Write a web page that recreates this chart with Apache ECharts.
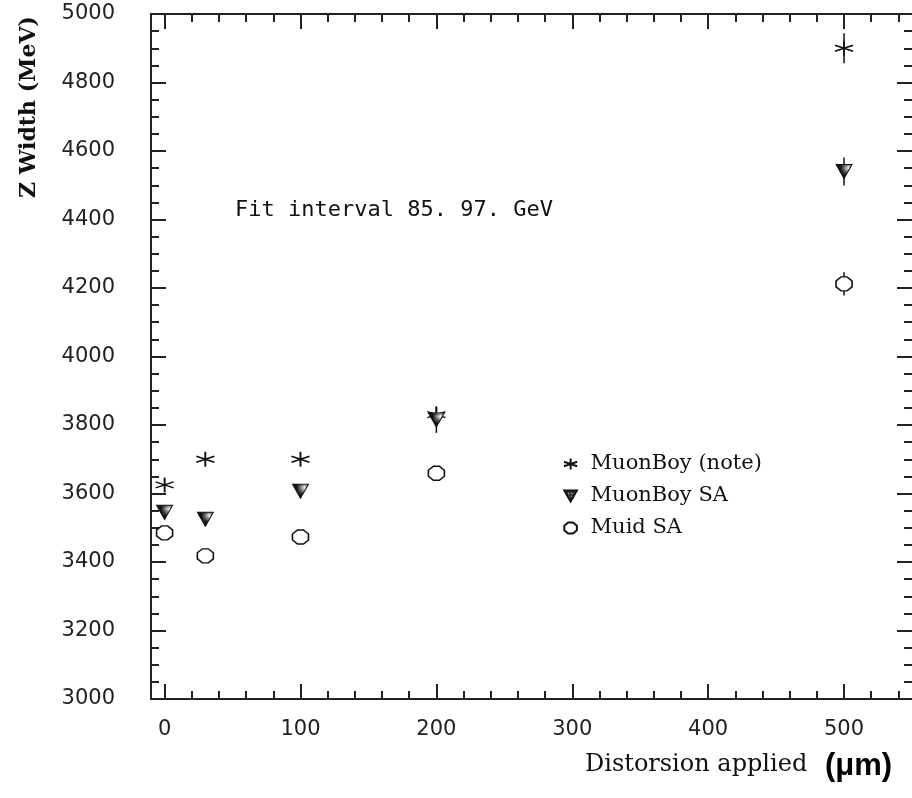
<!DOCTYPE html>
<html>
<head>
<meta charset="utf-8">
<script src="https://cdn.jsdelivr.net/npm/echarts@6/dist/echarts.min.js"></script>
<style>
html,body{margin:0;padding:0;background:#fff;}
#chart{width:912px;height:798px;}
</style>
</head>
<body>
<div id="chart"></div>
<script>
// ---- data ----
var distortion = [0, 30, 100, 200, 500];
var muonBoyNote = [3625, 3700, 3700, 3830, 4900];
var muonBoyNoteErr = [20, 20, 20, 25, 44];
var muonBoySA = [3545, 3525, 3607, 3815, 4540];
var muonBoySAErr = [20, 20, 20, 38, 41];
var muidSA = [3485, 3418, 3473, 3659, 4212];
var muidSAErr = [15, 15, 15, 18, 34];
var seriesNames = ['MuonBoy (note)', 'MuonBoy SA', 'Muid SA'];
var xMajorTicks = [0, 100, 200, 300, 400, 500];
var xMinorTicks = [20, 40, 60, 80, 120, 140, 160, 180, 220, 240, 260, 280, 320, 340, 360, 380, 420, 440, 460, 480, 520, 540];
var annotationText = 'Fit interval 85. 97. GeV';

// ---- helpers ----
function pts(ys) { return distortion.map(function (x, i) { return [x, ys[i]]; }); }
function errPts(ys, es) { return distortion.map(function (x, i) { return [x, ys[i], es[i]]; }); }

var hatch = document.createElement('canvas');
hatch.width = 3; hatch.height = 3;
(function () {
  var c = hatch.getContext('2d');
  c.fillStyle = '#111'; c.fillRect(0, 0, 3, 3);
  c.fillStyle = '#fff'; c.fillRect(1, 0, 1, 1); c.fillRect(0, 2, 1, 1);
})();

var AXC = '#222';
var starPath = 'path://M9 0 L9 15 M0 4.5 L18 10.5 M0 10.5 L18 4.5';
var triPath = 'path://M0 0 L16 0 L8 14 Z';
var octPath = 'path://M5 0 L11 0 L16 4 L16 10 L11 14 L5 14 L0 10 L0 4 Z';

function errorSeries(name, ys, es) {
  return {
    name: name, type: 'custom', z: 1,
    data: errPts(ys, es),
    renderItem: function (params, api) {
      var x = api.value(0), y = api.value(1), e = api.value(2);
      var p1 = api.coord([x, y - e]), p2 = api.coord([x, y + e]);
      return { type: 'line', shape: { x1: p1[0], y1: p1[1], x2: p2[0], y2: p2[1] },
        style: { stroke: '#111', lineWidth: 1.5 } };
    }
  };
}

function plain(v) { return String(v); }

function xAxisDef(pos, ticks, len, showLine, showLabel) {
  return {
    type: 'value', position: pos, min: -10, max: 550,
    axisLine: { show: showLine, onZero: false, lineStyle: { color: AXC, width: 2 } },
    axisTick: { show: true, inside: true, length: len, customValues: ticks, lineStyle: { color: AXC, width: 2 } },
    axisLabel: { show: showLabel, customValues: ticks, margin: 20, color: AXC, formatter: plain,
      fontFamily: 'DejaVu Sans', fontSize: 21 },
    splitLine: { show: false }
  };
}
function yAxisDef(pos, showLabel, showLine) {
  return {
    type: 'value', position: pos, min: 3000, max: 5000, interval: 200,
    axisLine: { show: showLine, onZero: false, lineStyle: { color: AXC, width: 2 } },
    axisTick: { show: true, inside: true, length: 15, lineStyle: { color: AXC, width: 2 } },
    minorTick: { show: true, splitNumber: 4, length: 8, lineStyle: { color: AXC, width: 2 } },
    axisLabel: { show: showLabel, margin: 36, color: AXC, formatter: plain,
      fontFamily: 'DejaVu Sans', fontSize: 21 },
    splitLine: { show: false }
  };
}

var chart = echarts.init(document.getElementById('chart'), null, { renderer: 'canvas' });
chart.setOption({
  animation: false,
  backgroundColor: '#fff',
  grid: { left: 151, top: 14, width: 764, height: 685, containLabel: false },
  xAxis: [
    xAxisDef('bottom', xMajorTicks, 15, true, true),
    xAxisDef('bottom', xMinorTicks, 8, false, false),
    xAxisDef('top', xMajorTicks, 15, true, false),
    xAxisDef('top', xMinorTicks, 8, false, false)
  ],
  yAxis: [yAxisDef('left', true, true), yAxisDef('right', false, false)],
  legend: {
    data: seriesNames, orient: 'vertical', left: 558, top: 448,
    itemWidth: 30, itemHeight: 11, itemGap: 10, symbolKeepAspect: true,
    textStyle: { fontFamily: 'DejaVu Serif', fontSize: 21, color: '#111', lineHeight: 22 }
  },
  series: [
    errorSeries('err1', muonBoyNote, muonBoyNoteErr),
    errorSeries('err2', muonBoySA, muonBoySAErr),
    errorSeries('err3', muidSA, muidSAErr),
    { name: seriesNames[0], type: 'scatter', z: 3, symbol: starPath, symbolSize: [18, 15],
      itemStyle: { color: 'rgba(0,0,0,0)', borderColor: '#111', borderWidth: 1.5, opacity: 1 },
      data: pts(muonBoyNote) },
    { name: seriesNames[1], type: 'scatter', z: 3, symbol: triPath, symbolSize: [16, 14],
      itemStyle: { color: { image: hatch, repeat: 'repeat' }, borderColor: '#111', borderWidth: 1, opacity: 1 },
      data: pts(muonBoySA) },
    { name: seriesNames[2], type: 'scatter', z: 3, symbol: octPath, symbolSize: [16, 14],
      itemStyle: { color: '#fff', borderColor: '#111', borderWidth: 1.5, opacity: 1 },
      data: pts(muidSA) }
  ],
  graphic: [
    { type: 'text', left: 235, top: 199,
      style: { text: annotationText, fontFamily: 'DejaVu Sans Mono', fontSize: 22, fill: '#111' } },
    { type: 'text', x: 29, y: 107, rotation: Math.PI / 2,
      style: { text: 'Z Width (MeV)', fontFamily: 'DejaVu Serif', fontWeight: 'bold', fontSize: 22,
        fill: '#111', align: 'center', verticalAlign: 'middle' } },
    { type: 'text', x: 585, y: 765,
      style: { text: 'Distorsion applied', fontFamily: 'DejaVu Serif', fontSize: 24, fill: '#111',
        align: 'left', verticalAlign: 'middle' } },
    { type: 'text', x: 825, y: 766,
      style: { text: '(\u03bcm)', fontFamily: 'Liberation Sans', fontWeight: 'bold', fontSize: 31, fill: '#000',
        align: 'left', verticalAlign: 'middle' } }
  ]
});
</script>
</body>
</html>
